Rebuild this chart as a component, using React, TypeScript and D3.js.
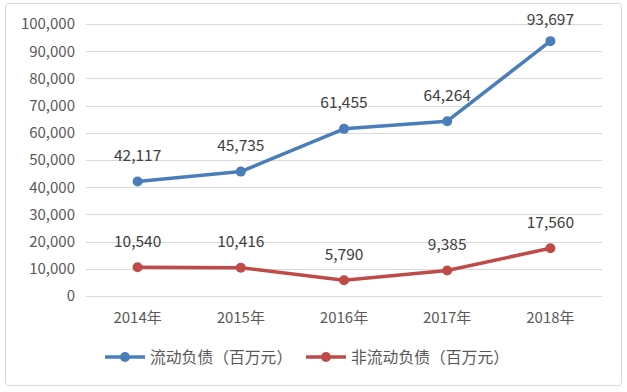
import { useEffect, useRef } from "react";
import * as d3 from "d3";

const YEARS = ["2014年", "2015年", "2016年", "2017年", "2018年"];
const CURRENT = [42117, 45735, 61455, 64264, 93697];
const NON_CURRENT = [10540, 10416, 5790, 9385, 17560];
const SERIES_NAMES = ["流动负债（百万元）", "非流动负债（百万元）"];
const Y_TICKS = [0, 10000, 20000, 30000, 40000, 50000, 60000, 70000, 80000, 90000, 100000];

const COLORS = ["#4a7ebb", "#be4b48"];
const FONT = "'Noto Sans CJK SC', 'Noto Sans', sans-serif";

export default function App() {
  const svgRef = useRef<SVGSVGElement>(null);

  useEffect(() => {
    const width = 627;
    const height = 392;
    const svg = d3.select(svgRef.current);
    svg.selectAll("*").remove();

    // outer chart frame
    svg.append("rect")
      .attr("x", 5.5).attr("y", 3.5)
      .attr("width", 616).attr("height", 382)
      .attr("rx", 3)
      .attr("fill", "#fff")
      .attr("stroke", "#d9d9d9");

    const x = d3.scalePoint<string>()
      .domain(YEARS)
      .range([86, 602])
      .padding(0.5);
    const y = d3.scaleLinear().domain([0, 100000]).range([296, 24]);

    // gridlines
    svg.append("g")
      .selectAll("line")
      .data(Y_TICKS)
      .enter()
      .append("line")
      .attr("x1", 86).attr("x2", 602)
      .attr("y1", (d) => Math.round(y(d)) + 0.5)
      .attr("y2", (d) => Math.round(y(d)) + 0.5)
      .attr("stroke", "#d9d9d9")
      .attr("stroke-width", 1);

    // y tick labels
    const fmt = d3.format(",");
    svg.append("g")
      .selectAll("text")
      .data(Y_TICKS)
      .enter()
      .append("text")
      .attr("x", 75)
      .attr("y", (d) => y(d))
      .attr("dy", "0.36em")
      .attr("text-anchor", "end")
      .attr("font-family", FONT)
      .attr("font-size", 15)
      .attr("fill", "#595959")
      .text((d) => fmt(d));

    // x labels
    svg.append("g")
      .selectAll("text")
      .data(YEARS)
      .enter()
      .append("text")
      .attr("x", (d) => x(d)!)
      .attr("y", 318)
      .attr("dy", "0.36em")
      .attr("text-anchor", "middle")
      .attr("font-family", FONT)
      .attr("font-size", 15)
      .attr("fill", "#595959")
      .text((d) => d);

    const line = d3.line<number>()
      .x((_, i) => x(YEARS[i])!)
      .y((d) => y(d));

    [CURRENT, NON_CURRENT].forEach((vals, si) => {
      const g = svg.append("g");
      g.append("path")
        .datum(vals)
        .attr("d", line)
        .attr("fill", "none")
        .attr("stroke", COLORS[si])
        .attr("stroke-width", 3.5)
        .attr("stroke-linejoin", "round")
        .attr("stroke-linecap", "round");
      g.selectAll("circle")
        .data(vals)
        .enter()
        .append("circle")
        .attr("cx", (_, i) => x(YEARS[i])!)
        .attr("cy", (d) => y(d))
        .attr("r", 5)
        .attr("fill", COLORS[si]);
      g.selectAll("text")
        .data(vals)
        .enter()
        .append("text")
        .attr("x", (_, i) => x(YEARS[i])!)
        .attr("y", (d) => Math.max(y(d) - 26, 19))
        .attr("dy", "0.36em")
        .attr("text-anchor", "middle")
        .attr("font-family", FONT)
        .attr("font-size", 15.5)
        .attr("fill", "#404040")
        .text((d) => fmt(d));
    });

    // legend
    const legendX = [105, 306];
    SERIES_NAMES.forEach((name, i) => {
      const lg = svg.append("g").attr("transform", `translate(${legendX[i]},357)`);
      lg.append("line")
        .attr("x1", 0).attr("x2", 40)
        .attr("stroke", COLORS[i])
        .attr("stroke-width", 3.5);
      lg.append("circle").attr("cx", 20).attr("r", 5).attr("fill", COLORS[i]);
      lg.append("text")
        .attr("x", 45)
        .attr("dy", "0.36em")
        .attr("font-family", FONT)
        .attr("font-size", 15.8)
        .attr("fill", "#595959")
        .text(name);
    });

    svg.attr("width", width).attr("height", height);
  }, []);

  return (
    <div style={{ position: "absolute", left: 0, top: 0 }}>
      <svg ref={svgRef} style={{ display: "block" }}></svg>
    </div>
  );
}
